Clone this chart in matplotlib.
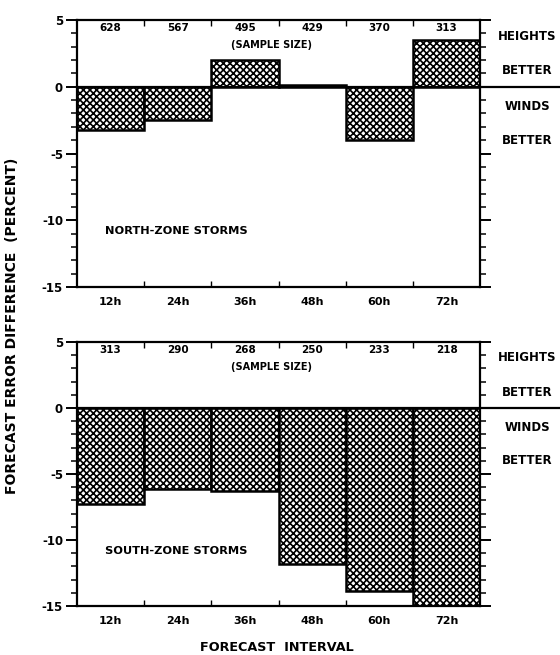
import matplotlib
matplotlib.use("Agg")
import matplotlib.pyplot as plt
from matplotlib.ticker import MultipleLocator, FixedLocator

intervals = ["12h", "24h", "36h", "48h", "60h", "72h"]
north_diff = [-3.2, -2.5, 2.0, 0.15, -4.0, 3.5]
north_n = [628, 567, 495, 429, 370, 313]
south_diff = [-7.3, -6.1, -6.3, -11.8, -13.9, -15.0]
south_n = [313, 290, 268, 250, 233, 218]

plt.rcParams['font.family'] = ['DejaVu Sans']
plt.rcParams['font.weight'] = 'bold'
plt.rcParams['hatch.linewidth'] = 1.2

fig = plt.figure(figsize=(5.6, 6.55), dpi=100)
ax1 = fig.add_axes([0.1375, 0.5618, 0.72, 0.4076])
ax2 = fig.add_axes([0.1375, 0.0748, 0.72, 0.4031])

def panel(ax, vals, ns, title):
    x = list(range(len(intervals)))
    ax.bar(x, vals, width=1.0, color='white', edgecolor='black',
           hatch='xxxxx', linewidth=1.8, zorder=2)
    ax.set_xlim(-0.5, len(intervals) - 0.5)
    ax.set_ylim(-15, 5)
    ax.yaxis.set_minor_locator(MultipleLocator(1))
    ax.set_yticks([5, 0, -5, -10, -15])
    ax.set_yticklabels(["5", "0", "-5", "-10", "-15"], fontsize=8.5, fontweight='bold')
    ax.tick_params(axis='y', which='major', direction='out', length=8, width=1.4,
                   left=True, right=True, pad=2)
    ax.tick_params(axis='y', which='minor', direction='out', length=4, width=1.1,
                   left=True, right=True)
    ax.set_xticks(x)
    ax.set_xticklabels(intervals, fontsize=8, fontweight='bold')
    ax.xaxis.set_minor_locator(FixedLocator([i + 0.5 for i in range(len(intervals) - 1)]))
    ax.tick_params(axis='x', which='major', length=0, pad=7)
    ax.tick_params(axis='x', which='minor', direction='in', length=4, width=1.0,
                   top=True, bottom=True)
    for s in ax.spines.values():
        s.set_linewidth(1.6)
    ax.plot([0, 1.2], [0, 0], transform=ax.get_yaxis_transform(), color='black',
            lw=1.6, clip_on=False, zorder=3)
    for i, n in enumerate(ns):
        ax.text(i, 4.4, str(n), ha='center', va='center', fontsize=7.5, fontweight='bold')
    ax.text(2.4, 3.1, "(SAMPLE SIZE)", ha='center', va='center', fontsize=7, fontweight='bold')
    ax.text(-0.08, -10.8, title, ha='left', va='center', fontsize=8.2, fontweight='bold')
    for yy, t in [(3.8, "HEIGHTS"), (1.2, "BETTER"), (-1.5, "WINDS"), (-4.0, "BETTER")]:
        ax.text(1.117, yy, t, transform=ax.get_yaxis_transform(), ha='center', va='center',
                fontsize=8.5, fontweight='bold')

panel(ax1, north_diff, north_n, "NORTH-ZONE STORMS")
panel(ax2, south_diff, south_n, "SOUTH-ZONE STORMS")

fig.text(0.022, 0.502, "FORECAST ERROR DIFFERENCE  (PERCENT)", rotation=90,
         ha='center', va='center', fontsize=10, fontweight='bold')
fig.text(0.495, 0.011, "FORECAST  INTERVAL", ha='center', va='center',
         fontsize=9.2, fontweight='bold')

fig.savefig("out.png", dpi=100)
